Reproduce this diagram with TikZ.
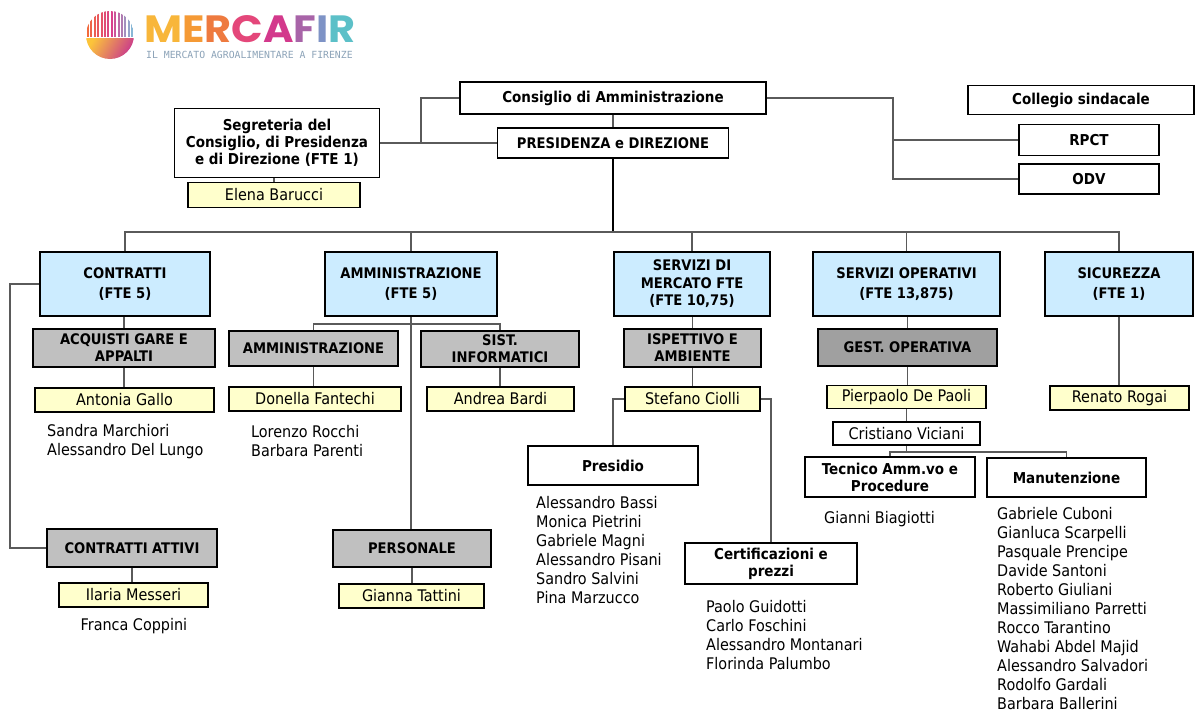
\documentclass[tikz,border=0pt]{standalone}
\usepackage{fontspec}
\usepackage{graphicx}
\setmainfont{DejaVu Sans Condensed}
\newfontfamily\logofont{Poppins}
\newfontfamily\subfont{DejaVu Sans Mono}
\definecolor{cBlue}{HTML}{CCECFF}
\definecolor{cGray}{HTML}{C0C0C0}
\definecolor{cDark}{HTML}{A0A0A0}
\definecolor{cYel}{HTML}{FFFFCC}
\definecolor{cLine}{HTML}{5A5A5A}
\definecolor{lgOr}{HTML}{F26A3D}
\definecolor{lgPk}{HTML}{D9408C}
\definecolor{lgBl}{HTML}{7FC4DE}
\definecolor{lgYe}{HTML}{FCC43A}
\definecolor{lgMg}{HTML}{C8358F}
\definecolor{mM}{HTML}{F8B63A}
\definecolor{mE}{HTML}{F59A35}
\definecolor{mR}{HTML}{EE7A3F}
\definecolor{mC}{HTML}{E4477A}
\definecolor{mA}{HTML}{D3398C}
\definecolor{mF}{HTML}{A864A8}
\definecolor{mI}{HTML}{7E93C6}
\definecolor{mRR}{HTML}{5CC0C8}
\definecolor{subc}{HTML}{8CA3B8}
\begin{document}
\begin{tikzpicture}[x=1pt,y=-1pt,
  sz/.style 2 args={minimum width=#1pt, minimum height=#2pt},
  box/.style={draw=black, line width=1.5pt, align=center, inner sep=0pt, font=\fontsize{15}{17}\selectfont\bfseries},
  capbox/.style={box, font=\fontsize{14.6}{17}\selectfont\bfseries},
  bluebox/.style={capbox, fill=cBlue, font=\fontsize{14.6}{20}\selectfont\bfseries},
  graybox/.style={capbox, fill=cGray},
  darkbox/.style={capbox, fill=cDark},
  namebox/.style={box, fill=cYel, font=\fontsize{16}{19}\selectfont},
  plainbox/.style={box, fill=white},
  person/.style={font=\fontsize{16}{19}\selectfont, inner sep=0pt},
  conn/.style={draw=cLine, line width=1.3pt},
]
\fill[white] (0,0) rectangle (1195,712);
\useasboundingbox (0,0) rectangle (1195,712);

% ---------- logo ----------
\begin{scope}
  \clip (110,35) circle (24);
  \foreach \i in {0,...,6}{
    \pgfmathtruncatemacro\p{100-\i*14}
    \fill[lgOr!\p!lgPk] (87+\i*3.4,9) rectangle ++(2,28);
  }
  \foreach \i in {7,...,13}{
    \pgfmathtruncatemacro\p{100-(\i-7)*15}
    \fill[lgPk!\p!lgBl] (87+\i*3.4,9) rectangle ++(2,28);
  }
  \shade[left color=lgYe, right color=lgMg, shading angle=60] (85,38.5) rectangle (135,60);
\end{scope}
\node[inner sep=0pt, anchor=west, font=\logofont\bfseries\fontsize{38}{40}\selectfont] (logo) at (144,29)
  {\scalebox{1.09}[1]{\color{mM}M\color{mE}E\color{mR}R\color{mC}C\color{mA}A\color{mF}F\color{mI}I\color{mRR}R}};
\node[inner sep=0pt, anchor=west, text=subc, font=\subfont\fontsize{9.8}{11}\selectfont] (logosub) at (146,55)
  {IL MERCATO AGROALIMENTARE A FIRENZE};

% ---------- top ----------
\node[box, sz={306}{32}] (cons) at (613,98) {Consiglio di Amministrazione};
\node[capbox, sz={231}{30}] (pres) at (613,143) {PRESIDENZA e DIREZIONE};
\node[box, sz={226}{29}] (coll) at (1081,100) {Collegio sindacale};
\node[box, sz={140}{31}] (rpct) at (1089,140) {RPCT};
\node[box, sz={140}{30}] (odv) at (1089,179) {ODV};
\node[box, sz={205}{69}] (segr) at (277,143) {Segreteria del\\Consiglio, di Presidenza\\e di Direzione (FTE 1)};
\node[namebox, sz={172}{25}] (elena) at (274,195) {Elena Barucci};

% ---------- first level ----------
\node[bluebox, sz={170}{64}] (contratti) at (125,284) {CONTRATTI\\(FTE 5)};
\node[bluebox, sz={172}{64}] (amm) at (411,284) {AMMINISTRAZIONE\\(FTE 5)};
\node[bluebox, sz={156}{64}, font=\fontsize{14.6}{17.5}\selectfont\bfseries] (servm) at (692,284) {SERVIZI DI\\MERCATO FTE\\(FTE 10,75)};
\node[bluebox, sz={187}{64}] (servo) at (906.5,284) {SERVIZI OPERATIVI\\(FTE 13,875)};
\node[bluebox, sz={148}{64}] (sic) at (1119,284) {SICUREZZA\\(FTE 1)};

% ---------- second level ----------
\node[graybox, sz={182}{38}] (acq) at (124,348) {ACQUISTI GARE E\\APPALTI};
\node[graybox, sz={169}{35}] (amm2) at (313.5,348.5) {AMMINISTRAZIONE};
\node[graybox, sz={158}{36}] (sist) at (500,349) {SIST.\\INFORMATICI};
\node[graybox, sz={137}{38}] (isp) at (692.5,348) {ISPETTIVO E\\AMBIENTE};
\node[darkbox, sz={179}{37}] (gest) at (907.5,347.5) {GEST. OPERATIVA};

% ---------- names ----------
\node[namebox, sz={179}{24}] (antonia) at (124.5,400) {Antonia Gallo};
\node[namebox, sz={172}{24}] (donella) at (315,399) {Donella Fantechi};
\node[namebox, sz={147}{24}] (andrea) at (500.5,399) {Andrea Bardi};
\node[namebox, sz={135}{24}] (stefano) at (692.5,399) {Stefano Ciolli};
\node[namebox, sz={159}{23}] (pier) at (906.5,397) {Pierpaolo De Paoli};
\node[namebox, sz={139}{24}] (renato) at (1119.5,398) {Renato Rogai};
\node[plainbox, sz={147}{23}, font=\fontsize{16}{19}\selectfont] (crist) at (906.5,433.5) {Cristiano Viciani};

\node[plainbox, sz={170}{39}] (presidio) at (613,465.5) {Presidio};
\node[plainbox, sz={172}{41}] (cert) at (771,563.5) {Certificazioni e\\prezzi};
\node[plainbox, sz={170}{40}] (tecnico) at (890,477) {Tecnico Amm.vo e\\Procedure};
\node[plainbox, sz={159}{39}] (manut) at (1066.5,477.5) {Manutenzione};

\node[graybox, sz={170}{38}] (catt) at (132,548) {CONTRATTI ATTIVI};
\node[namebox, sz={149}{24}] (ilaria) at (133.5,595) {Ilaria Messeri};
\node[graybox, sz={158}{37}] (personale) at (412,548.5) {PERSONALE};
\node[namebox, sz={145}{24}] (gianna) at (411.5,596) {Gianna Tattini};

% ---------- lists ----------
\foreach \n [count=\i] in {Sandra Marchiori, Alessandro Del Lungo}
  \node[person, anchor=base west] (la\i) at (47,{436+19*(\i-1)}) {\n};
\foreach \n [count=\i] in {Lorenzo Rocchi, Barbara Parenti}
  \node[person, anchor=base west] (lb\i) at (251,{437+19*(\i-1)}) {\n};
\node[person, anchor=base] (lc1) at (134,630) {Franca Coppini};
\foreach \n [count=\i] in {Alessandro Bassi, Monica Pietrini, Gabriele Magni, Alessandro Pisani, Sandro Salvini, Pina Marzucco}
  \node[person, anchor=base west] (ld\i) at (536,{508+19*(\i-1)}) {\n};
\foreach \n [count=\i] in {Paolo Guidotti, Carlo Foschini, Alessandro Montanari, Florinda Palumbo}
  \node[person, anchor=base west] (le\i) at (706,{612+19*(\i-1)}) {\n};
\node[person, anchor=base west] (lf1) at (824,523) {Gianni Biagiotti};
\foreach \n [count=\i] in {Gabriele Cuboni, Gianluca Scarpelli, Pasquale Prencipe, Davide Santoni, Roberto Giuliani, Massimiliano Parretti, Rocco Tarantino, Wahabi Abdel Majid, Alessandro Salvadori, Rodolfo Gardali, Barbara Ballerini}
  \node[person, anchor=base west] (lg\i) at (997,{519+19*(\i-1)}) {\n};

% ---------- connectors ----------
\coordinate (sj) at (421,143);
\coordinate (cv) at (893,98);
\coordinate (bus) at (613,232);
\coordinate (ab) at (411,324);
\coordinate (cb) at (907,452);
\coordinate (lx) at (10,284);

\draw[conn] (cons.south) -- (pres.north);
\draw[conn] (segr.east) -- (pres.west);
\draw[conn] (sj) |- (cons.west);
\draw[conn] (cons.east) -- (cv) |- (odv.west);
\draw[conn] (rpct.west) -- (cv |- rpct.west);
\draw[conn] (segr.south -| elena.north) -- (elena.north);

\draw[conn, draw=black] (pres.south) -- (bus);
\draw[conn] (contratti.north) -- (contratti.north |- bus) -- (sic.north |- bus) -- (sic.north);
\foreach \n in {amm, servm, servo}
  \draw[conn] (\n.north) -- (\n.north |- bus);

\draw[conn] (acq.north) -- (acq.north |- contratti.south);
\draw[conn] (amm.south) -- (amm.south |- personale.north);
\draw[conn] (amm2.north) -- (amm2.north |- ab) -- (sist.north |- ab) -- (sist.north);
\draw[conn] (isp.north) -- (isp.north |- servm.south);
\draw[conn] (gest.north) -- (gest.north |- servo.south);

\draw[conn] (acq.south) -- (acq.south |- antonia.north);
\draw[conn] (amm2.south) -- (amm2.south |- donella.north);
\draw[conn] (sist.south) -- (sist.south |- andrea.north);
\draw[conn] (isp.south) -- (isp.south |- stefano.north);
\draw[conn] (gest.south) -- (gest.south |- pier.north);
\draw[conn] (sic.south) -- (sic.south |- renato.north);
\draw[conn] (pier.south) -- (pier.south |- crist.north);

\draw[conn] (stefano.west) -| (presidio.north);
\draw[conn] (stefano.east) -| (cert.north);

\draw[conn] (crist.south) -- (crist.south |- cb);
\draw[conn] (tecnico.north) -- (tecnico.north |- cb) -- (manut.north |- cb) -- (manut.north);

\draw[conn] (contratti.west) -- (lx) |- (catt.west);
\draw[conn] (catt.south) -- (catt.south |- ilaria.north);
\draw[conn] (personale.south) -- (personale.south |- gianna.north);
\end{tikzpicture}
\end{document}
